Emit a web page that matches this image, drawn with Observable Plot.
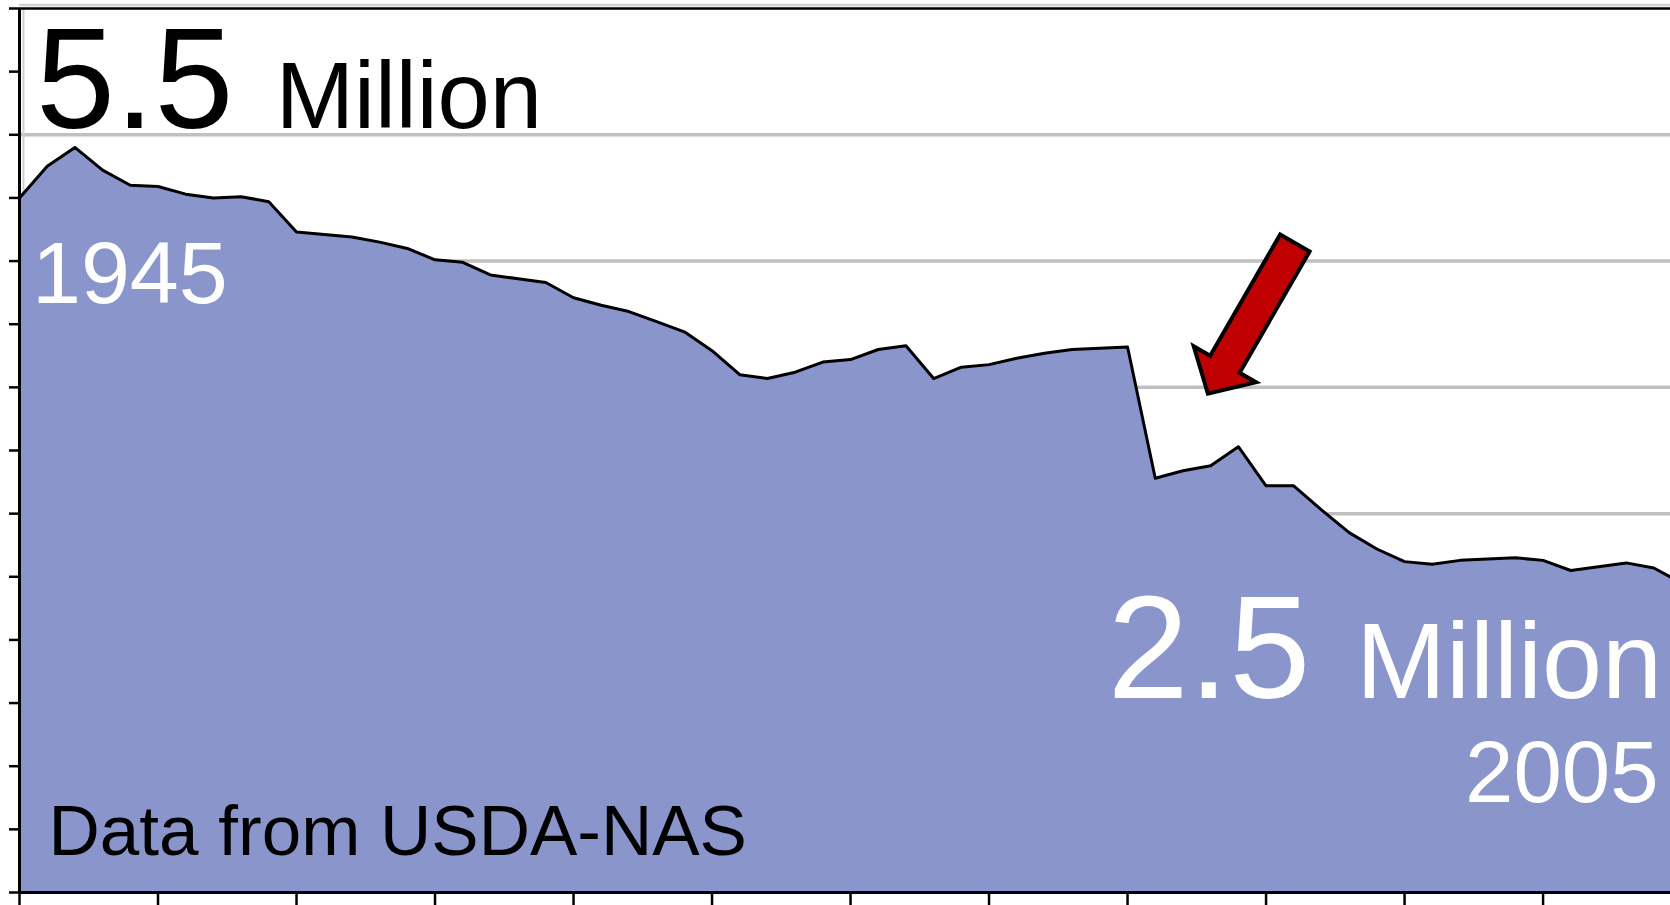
<!DOCTYPE html>
<html>
<head>
<meta charset="utf-8">
<script src="https://cdn.jsdelivr.net/npm/d3@7"></script>
<script src="https://cdn.jsdelivr.net/npm/@observablehq/plot@0.6"></script>
<style>
  html, body { margin: 0; padding: 0; background: #fff; overflow: hidden; }
  #chart svg g[aria-label^="y-axis"] line, #chart svg g[aria-label^="y-axis"] path,
  #chart svg g[aria-label^="x-axis"] line, #chart svg g[aria-label^="x-axis"] path { stroke-width: 2.5px; }
</style>
</head>
<body>
<div id="chart"></div>
<script>
// Honey bee colonies in the U.S. (millions)
const years = [1945,1946,1947,1948,1949,1950,1951,1952,1953,1954,1955,1956,1957,1958,1959,
  1960,1961,1962,1963,1964,1965,1966,1967,1968,1969,1970,1971,1972,1973,1974,1975,1976,1977,
  1978,1979,1980,1981,1982,1983,1984,1985,1986,1987,1988,1989,1990,1991,1992,1993,1994,1995,
  1996,1997,1998,1999,2000,2001,2002,2003,2004,2005];
const colonies = [5.50,5.75,5.90,5.72,5.60,5.59,5.53,5.50,5.51,5.47,5.23,5.21,5.19,5.15,5.10,
  5.01,4.99,4.89,4.86,4.83,4.71,4.65,4.60,4.52,4.44,4.29,4.10,4.07,4.12,4.20,4.22,4.30,4.33,
  4.07,4.16,4.18,4.23,4.27,4.30,4.31,4.32,3.28,3.34,3.38,3.53,3.22,3.22,3.03,2.85,2.72,2.62,
  2.60,2.63,2.64,2.65,2.63,2.55,2.58,2.61,2.57,2.45];
const xTicks = [1945,1950,1955,1960,1965,1970,1975,1980,1985,1990,1995,2000];
const yTicks = [0,0.5,1,1.5,2,2.5,3,3.5,4,4.5,5,5.5,6,6.5,7];
const gridValues = [1,2,3,4,5,6];
const labelStart = ["5.5", "Million"];
const labelEnd = ["2.5", "Million"];
const yearLabels = ["1945", "2005"];
const sourceLabel = "Data from USDA-NAS";
const arrowTip = [{year: 1987.9, value: 3.95}];

const data = years.map((year, i) => ({year, value: colonies[i]}));

const blockArrow = {
  draw(context, l) {
    const sw = 17, hw = 36, h = 34;
    context.moveTo(-sw, 0);
    context.lineTo(-sw, h - l);
    context.lineTo(-hw, h - l);
    context.lineTo(0, -l);
    context.lineTo(hw, h - l);
    context.lineTo(sw, h - l);
    context.lineTo(sw, 0);
    context.closePath();
  }
};

const font = "Liberation Sans, Arial, Helvetica, sans-serif";

const chart = Plot.plot({
  width: 1670,
  height: 905,
  marginLeft: 19,
  marginRight: 0,
  marginTop: 8,
  marginBottom: 13,
  style: {background: "white", fontFamily: font, overflow: "visible"},
  x: {domain: [1945, 2004.6], ticks: xTicks, tickSize: 13, tickFormat: () => "", label: null},
  y: {domain: [0, 7], ticks: yTicks, tickSize: 10, tickFormat: () => "", label: null},
  marks: [
    Plot.ruleY([7], {stroke: "#d2d2d2", strokeWidth: 2.5, dy: -3.5}),
    Plot.ruleY(gridValues, {stroke: "#c0c0c0", strokeWidth: 3.5}),
    Plot.ruleX([1945], {stroke: "#cfcfcf", strokeWidth: 2, dx: 4}),
    Plot.areaY(data, {x: "year", y: "value", fill: "#8a95cb", clip: true}),
    Plot.lineY(data, {x: "year", y: "value", stroke: "#000", strokeWidth: 3, strokeLinejoin: "round", clip: true}),
    Plot.ruleY([7], {stroke: "#000", strokeWidth: 2.5}),
    Plot.ruleY([0], {stroke: "#000", strokeWidth: 3}),
    Plot.ruleX([1945], {stroke: "#000", strokeWidth: 3}),
    Plot.text([labelStart[0]], {x: 1945.6, y: 6.05, text: d => d, fontSize: 142, fill: "#000", textAnchor: "start", lineAnchor: "bottom", fontFamily: font}),
    Plot.text([labelStart[1]], {x: 1954.25, y: 6.05, text: d => d, fontSize: 94, fill: "#000", textAnchor: "start", lineAnchor: "bottom", fontFamily: font}),
    Plot.text([yearLabels[0]], {x: 1945.45, y: 4.667, text: d => d, fontSize: 88, fill: "#fff", textAnchor: "start", lineAnchor: "bottom", fontFamily: font}),
    Plot.text([sourceLabel], {x: 1946.05, y: 0.293, text: d => d, fontSize: 71, fill: "#000", textAnchor: "start", lineAnchor: "bottom", fontFamily: font}),
    Plot.text([labelEnd[0]], {x: 1991.6, y: 1.537, text: d => d, fontSize: 146, fill: "#fff", textAnchor: "end", lineAnchor: "bottom", fontFamily: font}),
    Plot.text([labelEnd[1]], {x: 2004.3, y: 1.537, text: d => d, fontSize: 108, fill: "#fff", textAnchor: "end", lineAnchor: "bottom", fontFamily: font}),
    Plot.text([yearLabels[1]], {x: 2004.17, y: 0.713, text: d => d, fontSize: 87, fill: "#fff", textAnchor: "end", lineAnchor: "bottom", fontFamily: font}),
    Plot.vector(arrowTip, {x: "year", y: "value", length: 174, rotate: 210, anchor: "end", shape: blockArrow, fill: "#c00000", stroke: "#000", strokeWidth: 4, strokeLinejoin: "miter"})
  ]
});
document.getElementById("chart").appendChild(chart);
</script>
</body>
</html>
